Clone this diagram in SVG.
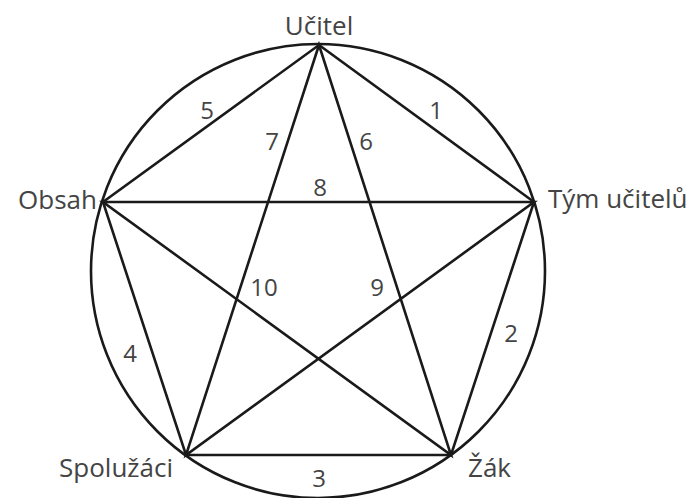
<svg xmlns="http://www.w3.org/2000/svg" width="692" height="498" viewBox="0 0 692 498">
<style>
.l{stroke:#1a1a1a;stroke-width:2.6;fill:none;stroke-linecap:round}
text{font-family:"Open Sans","Liberation Sans",sans-serif;font-size:26px;fill:#444}
.n{text-anchor:middle;font-size:24px}
</style>
<rect width="692" height="498" fill="#fff"/>
<g id="connectors">
<circle class="l" cx="318" cy="271" r="227"/>
<path class="l" d="M319 45L534 202L451 455L186 455L103 202Z"/>
<path class="l" d="M319 45L186 455L534 202L103 202L451 455Z"/>
</g>
<g id="labels">
<text class="n" x="207" y="119">5</text>
<text class="n" x="436" y="119">1</text>
<text class="n" x="272" y="150">7</text>
<text class="n" x="366" y="150">6</text>
<text class="n" x="320" y="196">8</text>
<text class="n" x="264" y="296">10</text>
<text class="n" x="377" y="296">9</text>
<text class="n" x="130" y="362">4</text>
<text class="n" x="511" y="342">2</text>
<text class="n" x="319" y="487">3</text>
</g>
<g id="ucitel"><text class="t" x="319" y="35" text-anchor="middle">Učitel</text></g>
<g id="obsah"><text x="97" y="209" text-anchor="end">Obsah</text></g>
<g id="tym"><text x="548" y="208">Tým učitelů</text></g>
<g id="spoluzaci"><text x="173" y="477" text-anchor="end">Spolužáci</text></g>
<g id="zak"><text x="468" y="477">Žák</text></g>
</svg>
